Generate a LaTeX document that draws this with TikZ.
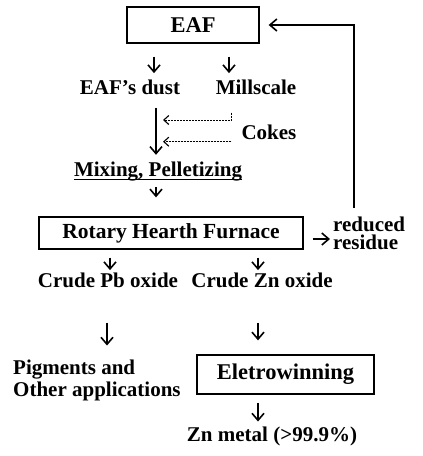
\documentclass[tikz,border=0pt]{standalone}
\usepackage{fontspec}
\setmainfont{Liberation Serif}
\usetikzlibrary{arrows.meta}

\begin{document}
\begin{tikzpicture}[x=1pt,y=-1pt,
  lbl/.style={inner sep=0pt,anchor=base,text height=14pt,text depth=4pt,
    font=\fontsize{21}{24}\selectfont\bfseries},
  box/.style={draw,line width=1.3pt,inner sep=0pt,
    font=\fontsize{22.5}{26}\selectfont\bfseries},
  arr/.style={-{Straight Barb[length=7pt,width=12pt,line width=1.6pt]},line width=1.6pt},
  dot/.style={-{Straight Barb[length=5pt,width=9pt,line width=1.1pt]},
    dash pattern=on 2pt off 1pt,line width=0.9pt}]
\useasboundingbox (0,0) rectangle (423,456);
\node[box,minimum width=132pt,minimum height=36pt] (eaf) at (193,25) {EAF};
\node[lbl] (dust) at (130,94.3) {EAF’s dust};
\node[lbl] (mill) at (256,94.3) {Millscale};
\node[lbl] (cokes) at (269,139.3) {Cokes};
\node[lbl] (mix) at (158,176) {Mixing, Pelletizing};
\node[box,minimum width=264pt,minimum height=32pt,font=\fontsize{21.5}{24}\selectfont\bfseries]
  (rhf) at (171,233) {Rotary Hearth Furnace};
\node[inner sep=0pt,anchor=north west,align=left,font=\fontsize{21}{18}\selectfont\bfseries]
  (resid) at (333,217) {reduced\\residue};
\node[lbl] (pb) at (108,287.3) {Crude Pb oxide};
\node[lbl] (zn) at (262,287.3) {Crude Zn oxide};
\node[inner sep=0pt,anchor=north west,align=left,font=\fontsize{21}{22}\selectfont\bfseries]
  (pig) at (13,359.5) {Pigments and\\Other applications};
\node[box,minimum width=177pt,minimum height=39pt] (elec) at (285.5,374.5) {Eletrowinning};
\node[lbl] (zmet) at (272,441.7) {Zn metal (>99.9\%)};
\coordinate (c1) at (163,120);
\coordinate (c2) at (163,141.7);

\draw[arr,shorten <=13pt,shorten >=7pt] ([xshift=-39pt]eaf.south) -- ([xshift=-39pt]eaf.south |- dust.north);
\draw[arr,shorten <=13pt,shorten >=7pt] ([xshift=36pt]eaf.south) -- ([xshift=36pt]eaf.south |- mill.north);
\draw[arr,shorten <=9pt,shorten >=7pt] ([xshift=26pt]dust.south) -- ([xshift=26pt]dust.south |- mix.north);
\draw[dot,shorten <=14pt] ([xshift=-25pt]mill.south) |- (c1);
\draw[dot,shorten <=10pt] (cokes.west |- c2) -- (c2);
\draw[line width=1pt] ([yshift=-3.3pt]mix.base west) -- ([yshift=-3.3pt]mix.base east);
\draw[arr,shorten <=7pt,shorten >=19pt] ([xshift=-2pt]mix.south) -- ([xshift=-2pt]mix.south |- rhf.north);
\draw[arr,shorten <=9pt,shorten >=3pt] ([yshift=-6pt]rhf.east) -- ([yshift=-6pt]rhf.east -| resid.west);
\draw[arr,shorten <=9pt,shorten >=9pt] ([xshift=21pt]resid.north west) |- (eaf.east);
\draw[arr,shorten <=8pt,shorten >=3pt] (rhf.south -| pb.north) ++(2pt,0) -- ([xshift=2pt]pb.north);
\draw[arr,shorten <=8pt,shorten >=3pt] ([xshift=-4pt]zn.north |- rhf.south) -- ([xshift=-4pt]zn.north);
\draw[arr,shorten <=31pt,shorten >=14pt] ([xshift=-1pt]pb.south) -- ([xshift=-1pt]pb.south |- pig.north);
\draw[arr,shorten <=31pt,shorten >=14pt] ([xshift=-4pt]zn.south) -- ([xshift=-4pt]zn.south |- elec.north);
\draw[arr,shorten <=8pt,shorten >=6pt] ([xshift=-27.5pt]elec.south) -- ([xshift=-27.5pt]elec.south |- zmet.north);
\end{tikzpicture}
\end{document}
